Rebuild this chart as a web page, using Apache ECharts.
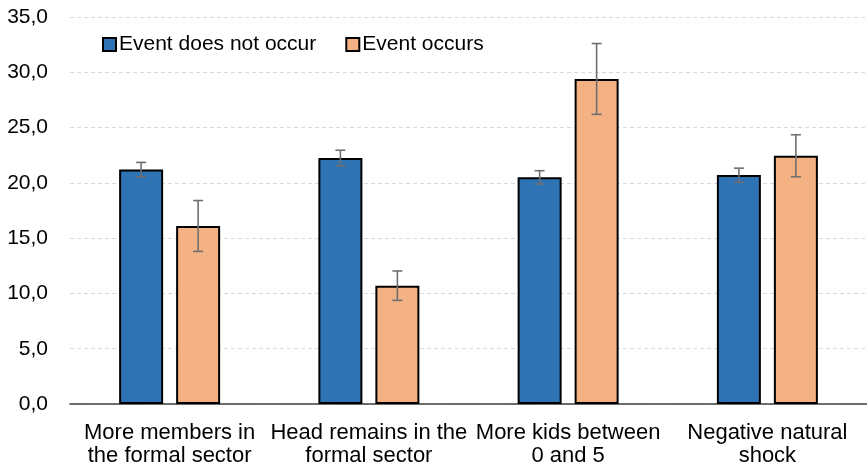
<!DOCTYPE html>
<html>
<head>
<meta charset="utf-8">
<script src="https://cdn.jsdelivr.net/npm/echarts@6/dist/echarts.min.js"></script>
<style>
html,body{margin:0;padding:0;background:#fff;}
#chart{width:867px;height:465px;}
</style>
</head>
<body>
<div id="chart"></div>
<script>
const categories = [
  "More members in\nthe formal sector",
  "Head remains in the\nformal sector",
  "More kids between\n0 and 5",
  "Negative natural\nshock"
];
const seriesNames = ["Event does not occur", "Event occurs"];
const notOccur = [21.2, 22.25, 20.5, 20.7];
const notOccurErr = [0.65, 0.7, 0.6, 0.63];
const occurs = [16.1, 10.7, 29.4, 22.45];
const occursErr = [2.3, 1.33, 3.2, 1.9];
const yTicks = { min: 0, max: 35, interval: 5 };

const FONT = 'Arial, "Liberation Sans", sans-serif';
const BAR_W = 44;
const BAR_GAP_PX = 13;
const OFFSET = (BAR_W + BAR_GAP_PX) / 2;

function errData(vals, errs) {
  return vals.map((v, i) => [i, v - errs[i], v + errs[i]]);
}

function makeErrRender(offset) {
  return function (params, api) {
    const x = api.value(0);
    const lo = api.coord([x, api.value(1)]);
    const hi = api.coord([x, api.value(2)]);
    const cx = lo[0] + offset;
    const cap = 5;
    const style = { stroke: '#6f6f6f', lineWidth: 1.6, fill: null };
    return {
      type: 'group',
      children: [
        { type: 'line', shape: { x1: cx, y1: hi[1], x2: cx, y2: lo[1] }, style: style },
        { type: 'line', shape: { x1: cx - cap, y1: hi[1], x2: cx + cap, y2: hi[1] }, style: style },
        { type: 'line', shape: { x1: cx - cap, y1: lo[1], x2: cx + cap, y2: lo[1] }, style: style }
      ]
    };
  };
}

const chart = echarts.init(document.getElementById('chart'));
chart.setOption({
  animation: false,
  backgroundColor: '#fff',
  textStyle: { fontFamily: FONT },
  grid: { left: 70, right: 0, top: 17, bottom: 61, containLabel: false, outerBoundsMode: 'none' },
  legend: {
    data: seriesNames,
    left: 102,
    top: 34,
    padding: 0,
    itemWidth: 13,
    itemHeight: 13,
    itemGap: 29,
    icon: 'rect',
    textStyle: { fontSize: 21, color: '#000', fontFamily: FONT, padding: [0, 0, 0, -2] }
  },
  xAxis: {
    type: 'category',
    data: categories,
    axisTick: { show: false },
    axisLine: { show: true, lineStyle: { color: '#404040', width: 1.5 } },
    axisLabel: {
      interval: 0,
      margin: 17,
      fontSize: 22,
      lineHeight: 23,
      color: '#000',
      fontFamily: FONT
    }
  },
  yAxis: {
    type: 'value',
    min: yTicks.min,
    max: yTicks.max,
    interval: yTicks.interval,
    axisLine: { show: false },
    axisTick: { show: false },
    splitLine: { show: true, lineStyle: { color: '#d9d9d9', type: [4, 3], width: 1 } },
    axisLabel: {
      margin: 22,
      fontSize: 21,
      color: '#000',
      fontFamily: FONT,
      formatter: v => v.toFixed(1).replace('.', ',')
    }
  },
  series: [
    {
      name: seriesNames[0],
      type: 'bar',
      data: notOccur,
      barWidth: BAR_W,
      barGap: (BAR_GAP_PX / BAR_W * 100) + '%',
      itemStyle: { color: '#2E74B5', borderColor: '#000', borderWidth: 2 },
      z: 2
    },
    {
      name: seriesNames[1],
      type: 'bar',
      data: occurs,
      barWidth: BAR_W,
      itemStyle: { color: '#F4B183', borderColor: '#000', borderWidth: 2 },
      z: 2
    },
    {
      type: 'custom',
      name: 'err0',
      renderItem: makeErrRender(-OFFSET),
      data: errData(notOccur, notOccurErr),
      encode: { x: 0, y: [1, 2] },
      z: 5,
      silent: true
    },
    {
      type: 'custom',
      name: 'err1',
      renderItem: makeErrRender(OFFSET),
      data: errData(occurs, occursErr),
      encode: { x: 0, y: [1, 2] },
      z: 5,
      silent: true
    }
  ]
});
</script>
</body>
</html>
